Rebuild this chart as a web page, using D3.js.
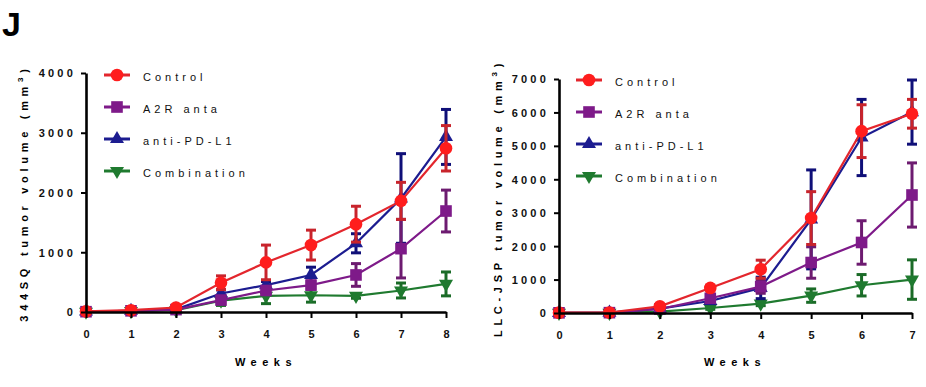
<!DOCTYPE html>
<html>
<head>
<meta charset="utf-8">
<script src="https://cdn.jsdelivr.net/npm/d3@7"></script>
<style>
  body { margin: 0; background: #fff; }
  svg { display: block; font-family: Arial, "Liberation Sans", sans-serif; }
</style>
</head>
<body>
<svg id="chart" width="926" height="387"></svg>
<script>
// Series names and legend order
const seriesNames = ['Control', 'A2R anta', 'anti-PD-L1', 'Combination'];

// Left panel: 344SQ
const weeksA = [0, 1, 2, 3, 4, 5, 6, 7, 8];
const controlA = [10, 30, 75, 490, 830, 1120, 1470, 1860, 2740];
const controlAErr = [0, 15, 20, 115, 290, 250, 300, 310, 380];
const a2rA = [5, 20, 40, 200, 360, 450, 620, 1060, 1690];
const a2rAErr = [0, 10, 15, 50, 60, 70, 190, 490, 350];
const pdl1A = [8, 20, 45, 310, 450, 620, 1150, 1900, 2930];
const pdl1AErr = [0, 10, 15, 60, 60, 130, 160, 750, 460];
const comboA = [5, 15, 30, 190, 270, 280, 270, 360, 470];
const comboAErr = [0, 5, 10, 80, 130, 115, 40, 125, 200];
const yTicksA = [0, 1000, 2000, 3000, 4000];

// Right panel: LLC-JSP
const weeksB = [0, 1, 2, 3, 4, 5, 6, 7];
const controlB = [10, 15, 200, 750, 1310, 2840, 5440, 5960];
const controlBErr = [0, 10, 50, 80, 270, 790, 790, 430];
const a2rB = [5, 10, 120, 440, 790, 1510, 2110, 3530];
const a2rBErr = [0, 5, 30, 100, 200, 470, 650, 960];
const pdl1B = [5, 10, 130, 360, 750, 2800, 5250, 6010];
const pdl1BErr = [0, 5, 30, 80, 320, 1480, 1140, 960];
const comboB = [5, 5, 40, 150, 280, 520, 830, 1000];
const comboBErr = [0, 0, 10, 40, 60, 200, 320, 590];
const yTicksB = [0, 1000, 2000, 3000, 4000, 5000, 6000, 7000];

// Look of each series
const styles = {
    'Control':     { line: '#e3262d', mark: '#ff1d1d', err: '#c8242c', symbol: d3.symbolCircle, size: 125 },
    'A2R anta':    { line: '#7e1a89', mark: '#7e1a89', err: '#6d1b70', symbol: d3.symbolSquare, size: 135 },
    'anti-PD-L1':  { line: '#1c1c90', mark: '#1c1c90', err: '#0f0f78', symbol: d3.symbolTriangle, size: 85 },
    'Combination': { line: '#1f7a2f', mark: '#1f7a2f', err: '#1a6b27', symbol: d3.symbolTriangle, size: 85, flip: true }
};

const svg = d3.select('#chart');

// Panel letter
svg.append('text')
    .attr('x', 2)
    .attr('y', 36)
    .attr('font-size', 34)
    .attr('font-weight', 'bold')
    .text('J');

function drawPanel(cfg) {
    const g = svg.append('g');

    const x = d3.scaleLinear().domain([0, d3.max(cfg.weeks)]).range(cfg.xRange);
    const y = d3.scaleLinear().domain([0, d3.max(cfg.yTicks)]).range(cfg.yRange);

    // Series, drawn so Control ends up on top
    const series = [
        { name: 'Combination', values: cfg.combo, err: cfg.comboErr },
        { name: 'anti-PD-L1', values: cfg.pdl1, err: cfg.pdl1Err },
        { name: 'A2R anta', values: cfg.a2r, err: cfg.a2rErr },
        { name: 'Control', values: cfg.control, err: cfg.controlErr }
    ];

    series.forEach(s => {
        const st = styles[s.name];
        const pts = cfg.weeks.map((w, i) => ({ w, v: s.values[i], e: s.err[i] }));
        const sg = g.append('g');

        // Error bars
        pts.filter(p => p.e > 0).forEach(p => {
            const cx = x(p.w);
            const hi = y(p.v + p.e);
            const lo = y(Math.max(0, p.v - p.e));
            sg.append('line')
                .attr('x1', cx).attr('x2', cx).attr('y1', hi).attr('y2', lo)
                .attr('stroke', st.err).attr('stroke-width', 3);
            [hi, lo].forEach(yy => {
                sg.append('line')
                    .attr('x1', cx - 5).attr('x2', cx + 5).attr('y1', yy).attr('y2', yy)
                    .attr('stroke', st.err).attr('stroke-width', 3);
            });
        });

        // Connecting line
        sg.append('path')
            .datum(pts)
            .attr('fill', 'none')
            .attr('stroke', st.line)
            .attr('stroke-width', 2.2)
            .attr('d', d3.line().x(p => x(p.w)).y(p => y(p.v)));

        // Markers
        sg.selectAll('path.mk')
            .data(pts)
            .enter()
            .append('path')
            .attr('class', 'mk')
            .attr('d', d3.symbol().type(st.symbol).size(st.size))
            .attr('fill', st.mark)
            .attr('transform', p => `translate(${x(p.w)},${y(p.v)})${st.flip ? ' rotate(180)' : ''}`);
    });

    // Y axis
    const yAxis = g.append('g')
        .attr('transform', `translate(${cfg.xRange[0]},0)`)
        .call(d3.axisLeft(y).tickValues(cfg.yTicks).tickSize(5).tickSizeOuter(0).tickPadding(5).tickFormat(d3.format('d')));

    // X axis
    const xAxis = g.append('g')
        .attr('transform', `translate(0,${cfg.yRange[0]})`)
        .call(d3.axisBottom(x).tickValues(cfg.weeks).tickSize(6).tickSizeOuter(0).tickPadding(12).tickFormat(d3.format('d')));

    [yAxis, xAxis].forEach(ax => {
        ax.select('.domain').attr('stroke', '#000').attr('stroke-width', 2.6);
        ax.selectAll('.tick line').attr('stroke', '#000').attr('stroke-width', 2);
        ax.selectAll('.tick text')
            .attr('font-family', 'Arial, "Liberation Sans", sans-serif')
            .attr('font-size', 11)
            .attr('font-weight', 'bold')
            .attr('fill', '#111');
    });
    yAxis.selectAll('.tick text').attr('letter-spacing', 3.2).attr('dy', '0.35em');

    // Axis titles
    svg.append('text')
        .attr('x', cfg.weeksX)
        .attr('y', 366)
        .attr('text-anchor', 'middle')
        .attr('font-size', 11)
        .attr('font-weight', 'bold')
        .attr('letter-spacing', 5.5)
        .text('Weeks');

    const yt = svg.append('text')
        .attr('transform', `translate(${cfg.yLabelX},${cfg.yLabelY}) rotate(-90)`)
        .attr('text-anchor', 'middle')
        .attr('font-size', 11)
        .attr('font-weight', 'bold')
        .attr('letter-spacing', cfg.yLabelSpacing);
    yt.append('tspan').text(cfg.yLabel + ' (mm');
    yt.append('tspan').attr('font-size', 8).attr('dy', -5).text('3');
    yt.append('tspan').attr('dy', 5).text(')');

    // Legend
    seriesNames.forEach((name, i) => {
        const st = styles[name];
        const ly = cfg.legendY + i * 32;
        const lg = svg.append('g');
        lg.append('line')
            .attr('x1', cfg.legendX).attr('x2', cfg.legendX + 26)
            .attr('y1', ly).attr('y2', ly)
            .attr('stroke', st.line).attr('stroke-width', 3);
        lg.append('path')
            .attr('d', d3.symbol().type(st.symbol).size(st.size)())
            .attr('fill', st.mark)
            .attr('transform', `translate(${cfg.legendX + 13},${ly})${st.flip ? ' rotate(180)' : ''}`);
        lg.append('text')
            .attr('x', cfg.legendX + 39)
            .attr('y', ly + 2)
            .attr('dy', '0.35em')
            .attr('font-size', 11)
            .attr('letter-spacing', 4)
            .attr('fill', '#111')
            .text(name);
    });
}

drawPanel({
    weeks: weeksA, yTicks: yTicksA,
    control: controlA, controlErr: controlAErr,
    a2r: a2rA, a2rErr: a2rAErr,
    pdl1: pdl1A, pdl1Err: pdl1AErr,
    combo: comboA, comboErr: comboAErr,
    xRange: [86, 446], yRange: [312, 73],
    weeksX: 266, yLabelX: 28, yLabelY: 193, yLabelSpacing: 4.7,
    yLabel: '344SQ tumor volume',
    legendX: 104, legendY: 75
});

drawPanel({
    weeks: weeksB, yTicks: yTicksB,
    control: controlB, controlErr: controlBErr,
    a2r: a2rB, a2rErr: a2rBErr,
    pdl1: pdl1B, pdl1Err: pdl1BErr,
    combo: comboB, comboErr: comboBErr,
    xRange: [559, 912], yRange: [313, 79],
    weeksX: 735, yLabelX: 502, yLabelY: 198, yLabelSpacing: 4.7,
    yLabel: 'LLC-JSP tumor volume',
    legendX: 576, legendY: 80
});
</script>
</body>
</html>
